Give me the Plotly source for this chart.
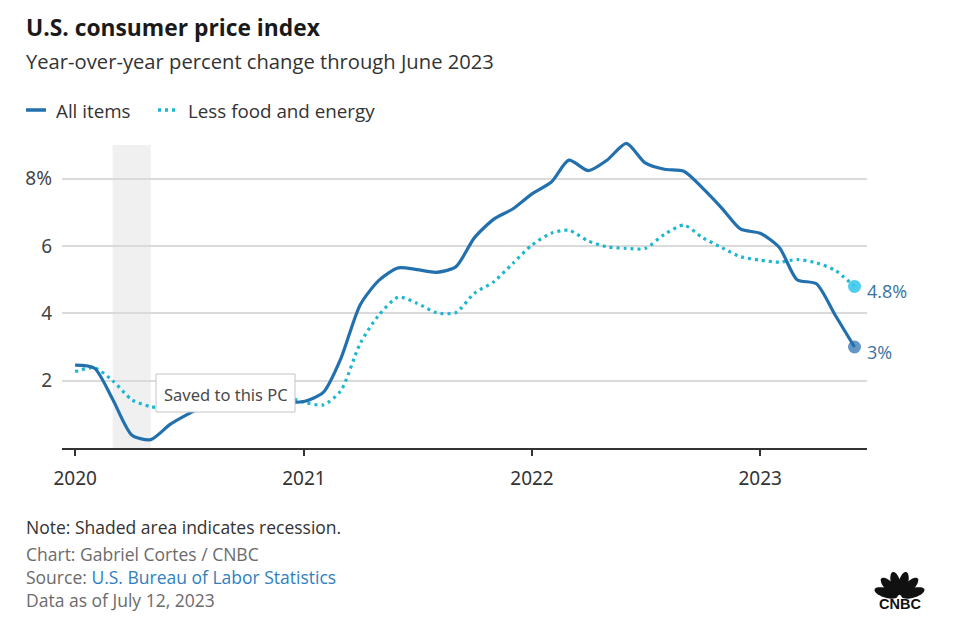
import numpy as np
import pandas as pd
import plotly.graph_objects as go

# ---------------- data ----------------
months = pd.date_range("2020-01-01", "2023-06-01", freq="MS")
all_items = [
    2.46, 2.37, 1.45, 0.38, 0.25, 0.70, 1.02, 1.30, 1.40, 1.22, 1.20, 1.35,
    1.38, 1.65, 2.65, 4.25, 4.98, 5.35, 5.30, 5.22, 5.38, 6.25, 6.80, 7.10,
    7.55, 7.90, 8.55, 8.24, 8.55, 9.05, 8.47, 8.28, 8.22, 7.72, 7.12, 6.50,
    6.38, 5.95, 5.00, 4.88, 3.95, 3.00,
]
core = [
    2.27, 2.38, 2.00, 1.43, 1.23, 1.20, 1.55, 1.70, 1.70, 1.60, 1.60, 1.55,
    1.36, 1.28, 1.70, 3.10, 3.95, 4.48, 4.30, 4.02, 4.02, 4.60, 4.94, 5.48,
    6.03, 6.38, 6.47, 6.15, 5.98, 5.93, 5.93, 6.35, 6.62, 6.25, 5.95, 5.68,
    5.58, 5.52, 5.60, 5.50, 5.28, 4.80,
]
series_names = ["All items", "Less food and energy"]
end_labels = ["3%", "4.8%"]
ytick_vals = [2, 4, 6, 8]
ytick_text = ["2", "4", "6", "8%"]
recession = ("2020-03-01", "2020-05-01")
y_top = 9.0

# ---------------- style ----------------
W, H = 975, 634
L, R, T, B = 62, 108, 141, 186
PW, PH = W - L - R, H - T - B
BLUE = "#2270ad"
CYAN = "#1db7cf"
FONT = "Open Sans"


def px(x, y):
    """pixel -> paper coords"""
    return (x - L) / PW, (H - B - y) / PH


fig = go.Figure()

fig.add_trace(go.Scatter(
    x=months, y=core, mode="lines", name=series_names[1],
    line=dict(color=CYAN, width=3.2, dash="3px,4px", shape="spline", smoothing=0.7),
    hoverinfo="skip",
))
fig.add_trace(go.Scatter(
    x=months, y=all_items, mode="lines", name=series_names[0],
    line=dict(color=BLUE, width=3.2, shape="spline", smoothing=0.7),
    hoverinfo="skip",
))
fig.add_trace(go.Scatter(
    x=[months[-1]], y=[core[-1]], mode="markers",
    marker=dict(size=13, color="rgba(60,200,236,0.9)"), hoverinfo="skip", cliponaxis=False,
))
fig.add_trace(go.Scatter(
    x=[months[-1]], y=[all_items[-1]], mode="markers",
    marker=dict(size=13, color="rgba(40,110,176,0.72)"), hoverinfo="skip", cliponaxis=False,
))

# end labels
for val, lab in [(all_items[-1], end_labels[0]), (core[-1], end_labels[1])]:
    fig.add_annotation(x=months[-1], y=val, text=lab, showarrow=False,
                       xanchor="left", yanchor="middle", xshift=10, yshift=-5,
                       font=dict(family=FONT, size=18, color="#3a72a0"))

shapes = []
# recession shading
shapes.append(dict(type="rect", xref="x", yref="y", x0=recession[0], x1=recession[1],
                   y0=0, y1=y_top, fillcolor="#f0f0f0", line=dict(width=0), layer="below"))

annotations = []


def text(xp, yp, s, size, color, bold=False, anchor="left", family=FONT):
    xx, yy = px(xp, yp)
    annotations.append(dict(xref="paper", yref="paper", x=xx, y=yy, text=s, showarrow=False,
                            xanchor=anchor, yanchor="middle",
                            font=dict(family=family, size=size, color=color,
                                      weight="bold" if bold else "normal")))


text(24, 27, "U.S. consumer price index", 22.8, "#1a1a1a", bold=True)
text(24, 61, "Year-over-year percent change through June 2023", 20.2, "#333333")

# legend
x0, y0 = px(26, 110)
x1, _ = px(46, 110)
shapes.append(dict(type="line", xref="paper", yref="paper", x0=x0, x1=x1, y0=y0, y1=y0,
                   line=dict(color=BLUE, width=3.5)))
x0, _ = px(158, 110)
x1, _ = px(176, 110)
shapes.append(dict(type="line", xref="paper", yref="paper", x0=x0, x1=x1, y0=y0, y1=y0,
                   line=dict(color=CYAN, width=3.5, dash="3px,4px")))
text(54, 111, series_names[0], 18.8, "#333333")
text(186, 111, series_names[1], 18.8, "#333333")

# footer
text(24, 527, "Note: Shaded area indicates recession.", 17.5, "#333333")
text(24, 554, "Chart: Gabriel Cortes / CNBC", 17.5, "#6b6b6b")
text(24, 577, "Source: <span style='color:#2f7fbf'>U.S. Bureau of Labor Statistics</span>",
     17.5, "#6b6b6b")
text(24, 600, "Data as of July 12, 2023", 17.5, "#6b6b6b")

# "Saved to this PC" popup
bx0, by0 = px(156, 374)
bx1, by1 = px(295, 412)
shapes.append(dict(type="rect", xref="paper", yref="paper", x0=bx0, x1=bx1, y0=by1, y1=by0,
                   fillcolor="white", line=dict(color="#c4c4c4", width=1), layer="above"))
text(225.5, 394, "Saved to this PC", 16.5, "#4a4a4a", anchor="center", family="Noto Sans")


# CNBC logo (peacock)
def petal(cx, cy, a, b, ang):
    t = np.linspace(0, 2 * np.pi, 30)
    ca, sa = np.cos(np.radians(ang)), np.sin(np.radians(ang))
    xs = cx + a * np.cos(t) * ca - b * np.sin(t) * sa
    ys = cy - (a * np.cos(t) * sa + b * np.sin(t) * ca)
    pts = [px(x, y) for x, y in zip(xs, ys)]
    return "M " + " L ".join(f"{p[0]:.5f},{p[1]:.5f}" for p in pts) + " Z"


ccx, ccy = 899.5, 597
for ang in [163, 134, 105, 75, 46, 17]:
    r = 14
    cx = ccx + r * np.cos(np.radians(ang))
    cy = ccy - r * np.sin(np.radians(ang))
    shapes.append(dict(type="path", xref="paper", yref="paper", path=petal(cx, cy, 12, 4.8, ang),
                       fillcolor="#111111", line=dict(width=0)))
text(899.5, 604, "CNBC", 14.5, "#111111", bold=True, anchor="center", family="Liberation Sans")

fig.update_layout(
    width=W, height=H, margin=dict(l=L, r=R, t=T, b=B),
    paper_bgcolor="white", plot_bgcolor="white", showlegend=False,
    shapes=shapes, annotations=fig.layout.annotations + tuple(annotations),
    font=dict(family=FONT),
)
fig.update_xaxes(
    type="date", range=["2019-12-11", "2023-06-21"],
    tickvals=["2020-01-01", "2021-01-01", "2022-01-01", "2023-01-01"],
    ticktext=["2020", "2021", "2022", "2023"],
    showgrid=False, zeroline=False, showline=True, linecolor="#333333", linewidth=1.5,
    ticks="outside", ticklen=6, tickwidth=1.5, tickcolor="#333333",
    tickfont=dict(family="Noto Sans", size=19, color="#333333"), ticklabelstandoff=6,
    fixedrange=True,
)
fig.update_yaxes(
    range=[0, 9.12], tickvals=ytick_vals, ticktext=ytick_text,
    showgrid=True, gridcolor="#dadada", gridwidth=1.5, zeroline=False, showline=False,
    ticks="", tickfont=dict(family="Noto Sans", size=19, color="#444444"),
    ticklabelstandoff=9, fixedrange=True,
)

fig.write_html("out.html")
